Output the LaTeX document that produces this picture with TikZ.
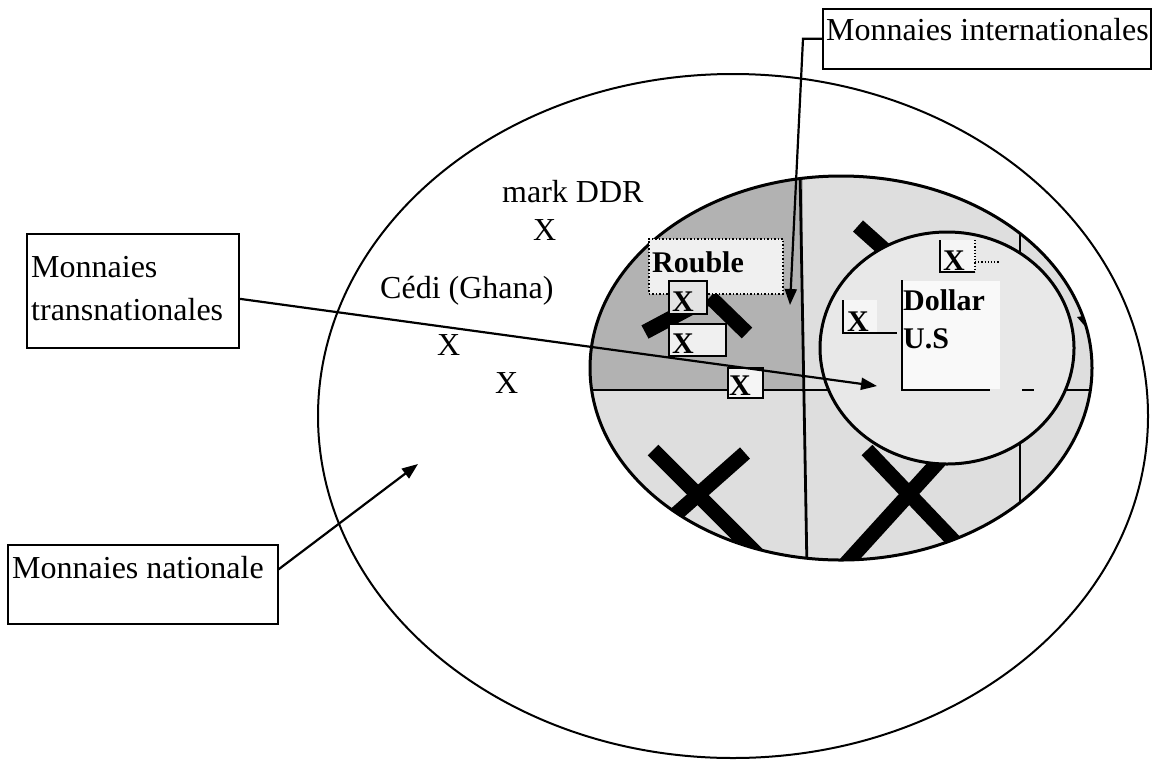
\documentclass[tikz,border=0pt]{standalone}
\usepackage{fontspec}
\setmainfont{Liberation Serif}
\usetikzlibrary{arrows.meta}
\begin{document}
\begin{tikzpicture}[x=1pt,y=-1pt,
  lbl/.style={font=\fontsize{32}{38}\selectfont, inner sep=0pt, anchor=base west},
  bxl/.style={font=\bfseries\fontsize{30}{36}\selectfont, inner sep=0pt, anchor=base west},
  tbox/.style={draw, line width=1.6pt, anchor=north west, inner sep=0pt},
  conn/.style={line width=2.2pt, -{Triangle[length=16pt,width=12pt]}},
  bigx/.style={line width=15pt},
  divider/.style={line width=2.8pt},
  xbox/.style={draw, line width=1.5pt, anchor=north west, inner sep=0pt},
]
\useasboundingbox[fill=white] (0,0) rectangle (1153,764);

% outer ellipse (national currencies)
\draw[line width=2pt] (733,416) ellipse [x radius=415pt, y radius=342pt];

% inner ellipse (shaded)
\begin{scope}
  \clip (841,368) ellipse [x radius=251pt, y radius=192pt];
  \fill[gray!26] (580,170) rectangle (1100,570);
  \fill[gray!60] (580,170) rectangle (803,390);
  \draw[divider] (800,170) -- (807,570);
  \draw[divider] (1020,170) -- (1020,570);
  \draw[divider] (580,390) -- (1100,390);
  \draw[bigx] (653,450) -- (783,580);
  \draw[bigx] (745,453) -- (640,546);
  \draw[bigx] (867,450) -- (990,579);
  \draw[bigx] (940,460) -- (840,570);
  \draw[bigx] (858,226) -- (905,268);
  \draw[bigx] (710,297) -- (747,333);
  \draw[bigx] (705,300) -- (645,332);
  \fill (1077,317) -- (1090,315) -- (1090,332) -- cycle;
\end{scope}
\draw[line width=3pt] (841,368) ellipse [x radius=251pt, y radius=192pt];

% circle (dollar)
\draw[line width=3pt, fill=gray!18] (947,348) ellipse [x radius=127pt, y radius=116pt];
\fill[gray!5] (903,281) rectangle (1000,389);
\draw[line width=1.5pt] (902,280) -- (902,390) -- (990,390);
\draw[line width=1.5pt] (1022,390) -- (1034,390);
\node[bxl] (dol) at (903,310) {Dollar};
\node[bxl] (us) at (903,348) {U.S};

% X boxes inside the dollar circle
\fill[gray!8] (843,300) rectangle (877,333);
\draw[line width=1.5pt] (843,300) -- (843,333) -- (897,333);
\node[bxl] (xd1) at (847,331) {X};
\fill[gray!8] (940,240) rectangle (975,272);
\draw[line width=1.5pt] (940,240) -- (940,272) -- (975,272);
\draw[line width=1.2pt, dotted] (975,240) -- (975,272);
\draw[line width=1.2pt, dotted] (975,262) -- (1000,262);
\node[bxl] (xd2) at (943,270) {X};

% Rouble and its X boxes
\node[xbox, dotted, fill=gray!12, minimum width=134pt, minimum height=55pt] (rb) at (648,238) {};
\node[bxl] (rt) at (652,272) {Rouble};
\node[xbox, fill=gray!22, minimum width=38pt, minimum height=33pt] (x1) at (668,280) {};
\node[bxl] (x1t) at (672,311) {X};
\node[xbox, fill=gray!12, minimum width=57pt, minimum height=32pt] (x2) at (668,323) {};
\node[bxl] (x2t) at (672,353) {X};
\node[xbox, fill=gray!8, minimum width=35pt, minimum height=30pt] (x3) at (727,367) {};
\node[bxl] (x3t) at (729,395) {X};

% free labels in the national zone
\node[lbl] (ddr) at (502,202) {mark DDR};
\node[lbl] (xddr) at (533,240) {X};
\node[lbl] (cedi) at (380,298) {Cédi (Ghana)};
\node[lbl] (xc1) at (437,355) {X};
\node[lbl] (xc2) at (495,393) {X};

% legend boxes and connectors
\node[tbox, minimum width=328pt, minimum height=60pt] (mi) at (822,8) {};
\node[lbl] (mit) at (826,40) {Monnaies internationales};
\coordinate (miT) at (790,305);
\draw[conn] (mi.west) -- ++(-19,0) -- (miT);

\node[tbox, minimum width=212pt, minimum height=114pt] (mt) at (26,233) {};
\node[lbl] (mt1) at (31,277) {Monnaies};
\node[lbl] (mt2) at (31,320) {transnationales};
\coordinate (mtT) at (877,386);
\draw[conn] ([yshift=-8pt]mt.east) -- (mtT);

\node[tbox, minimum width=270pt, minimum height=79pt] (mn) at (7,544) {};
\node[lbl] (mnt) at (12,578) {Monnaies nationale};
\coordinate (mnT) at (418,464);
\draw[conn] ([yshift=15pt]mn.east) -- (mnT);
\end{tikzpicture}
\end{document}
